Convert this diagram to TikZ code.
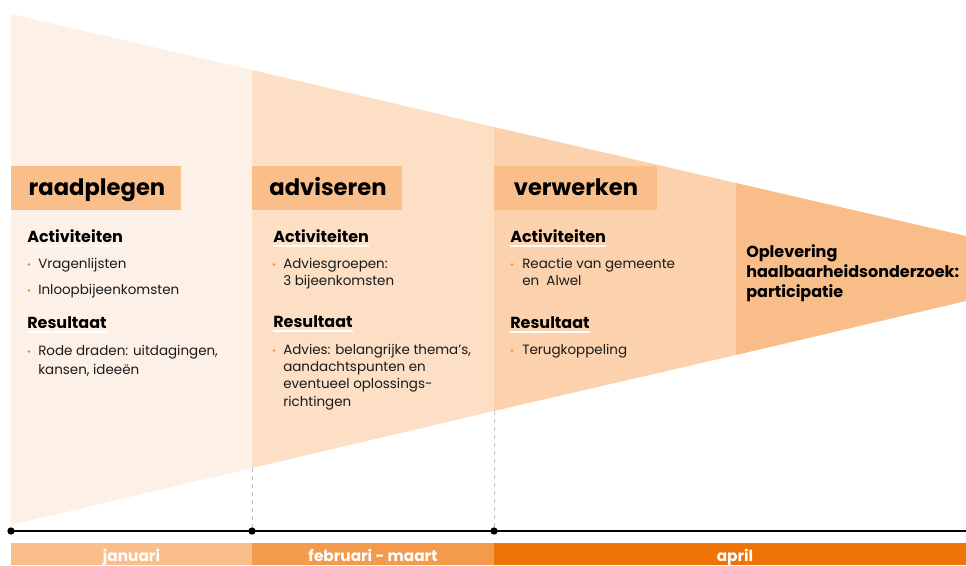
\documentclass[tikz,border=0pt]{standalone}
\usepackage{fontspec}
\setmainfont{Poppins}
\usetikzlibrary{calc}
\definecolor{cA}{HTML}{FDF0E6}
\definecolor{cB}{HTML}{FCDFC5}
\definecolor{cC}{HTML}{FBD2AD}
\definecolor{cD}{HTML}{F8BD88}
\definecolor{boxc}{HTML}{F9BE89}
\definecolor{barA}{HTML}{F9BE89}
\definecolor{barB}{HTML}{F39A4C}
\definecolor{barC}{HTML}{EE7407}
\definecolor{bul}{HTML}{F08A30}
\definecolor{txt}{HTML}{1A1A1A}
\tikzset{
  labelbox/.style={fill=boxc, inner sep=0pt, minimum height=33pt},
  labeltext/.style={anchor=base, inner sep=0pt, font=\fontsize{17}{19}\selectfont\bfseries, text=black},
  head/.style={anchor=base west, inner sep=0pt, font=\fontsize{12}{14}\selectfont\bfseries, text=black},
  body/.style={anchor=base west, inner sep=0pt, align=left, font=\fontsize{10.1}{13.1}\selectfont, text=txt},
  final/.style={anchor=base west, inner sep=0pt, align=left, font=\fontsize{12}{15}\selectfont\bfseries, text=black},
  bulletdot/.style={circle, fill=bul, inner sep=0pt, minimum size=2.2pt},
  tdot/.style={circle, fill=black, inner sep=0pt, minimum size=5.5pt},
  barlbl/.style={anchor=base, inner sep=0pt, font=\fontsize{11.5}{13}\selectfont\bfseries, text=white},
  guide/.style={draw=gray!50, dashed, line width=0.6pt},
  uline/.style={draw=white, line width=1.6pt}
}
\begin{document}
\begin{tikzpicture}[x=0.75pt,y=-0.75pt]
\useasboundingbox (0,0) rectangle (966,565);
% funnel sections
\fill[cA] (11,14) -- (252,70) -- (252,468) -- (11,525) -- cycle;
\fill[cB] (252,70) -- (494,127) -- (494,411) -- (252,468) -- cycle;
\fill[cC] (494,127) -- (736,183) -- (736,355) -- (494,411) -- cycle;
\fill[cD] (736,183) -- (966,236) -- (966,301) -- (736,355) -- cycle;

% label boxes
\node[labelbox, minimum width=127.5pt] (rp) at (96,188) {};
\node[labeltext] (rpt) at (97,195) {raadplegen};
\node[labelbox, minimum width=112.5pt] (ad) at (327,188) {};
\node[labeltext] (adt) at (328,195) {adviseren};
\node[labelbox, minimum width=122.25pt] (vw) at (575.5,188) {};
\node[labeltext] (vwt) at (576,195) {verwerken};

% column 1
\node[head] (h1a) at (27,242) {Activiteiten};
\draw[uline] ($(h1a.base west)+(0,4)$) -- ($(h1a.base east)+(0,4)$);
\node[bulletdot] (b1a) at (29,264.5) {};
\node[body] (t1a) at (38,268) {Vragenlijsten};
\node[bulletdot] (b1b) at (29,290.5) {};
\node[body] (t1b) at (38,294) {Inloopbijeenkomsten};
\node[head] (h1b) at (27,328) {Resultaat};
\draw[uline] ($(h1b.base west)+(0,4)$) -- ($(h1b.base east)+(0,4)$);
\node[bulletdot] (b1c) at (29,351.5) {};
\node[body, font=\fontsize{10.1}{14}\selectfont] (t1c) at (38,374) {Rode draden: uitdagingen,\\kansen, ideeën};

% column 2
\node[head] (h2a) at (273,242) {Activiteiten};
\draw[uline] ($(h2a.base west)+(0,4)$) -- ($(h2a.base east)+(0,4)$);
\node[bulletdot] (b2a) at (274,264.5) {};
\node[body] (t2a) at (283,285.5) {Adviesgroepen:\\3 bijeenkomsten};
\node[head] (h2b) at (273,327) {Resultaat};
\draw[uline] ($(h2b.base west)+(0,4)$) -- ($(h2b.base east)+(0,4)$);
\node[bulletdot] (b2b) at (274,350.5) {};
\node[body] (t2b) at (283,406.4) {Advies: belangrijke thema’s,\\aandachtspunten en\\eventueel oplossings-\\richtingen};

% column 3
\node[head] (h3a) at (510,242) {Activiteiten};
\draw[uline] ($(h3a.base west)+(0,4)$) -- ($(h3a.base east)+(0,4)$);
\node[bulletdot] (b3a) at (512,264.5) {};
\node[body] (t3a) at (522,285.5) {Reactie van gemeente\\en\ \ Alwel};
\node[head] (h3b) at (510,328) {Resultaat};
\draw[uline] ($(h3b.base west)+(0,4)$) -- ($(h3b.base east)+(0,4)$);
\node[bulletdot] (b3b) at (512,350.5) {};
\node[body] (t3b) at (522,354) {Terugkoppeling};

% column 4
\node[final] (fin) at (746,297) {Oplevering\\haalbaarheidsonderzoek:\\participatie};

% timeline
\node[tdot] (d1) at (11,531) {};
\node[tdot] (d2) at (252,531) {};
\node[tdot] (d3) at (494,531) {};
\coordinate (dend) at (966,531);
\draw[line width=1.4pt] (d1.center) -- (d2.center) -- (d3.center) -- (dend);
\coordinate (g2) at (252,468);
\coordinate (g3) at (494,411);
\draw[guide] (g2) -- (d2);
\draw[guide] (g3) -- (d3);

% month bars
\fill[barA] (11,543) rectangle (252,565);
\fill[barB] (252,543) rectangle (494,565);
\fill[barC] (494,543) rectangle (966,565);
\node[barlbl] (m1) at (131.5,561) {januari};
\node[barlbl] (m2) at (373,561) {februari - maart};
\node[barlbl] (m3) at (735,561) {april};
\end{tikzpicture}
\end{document}
